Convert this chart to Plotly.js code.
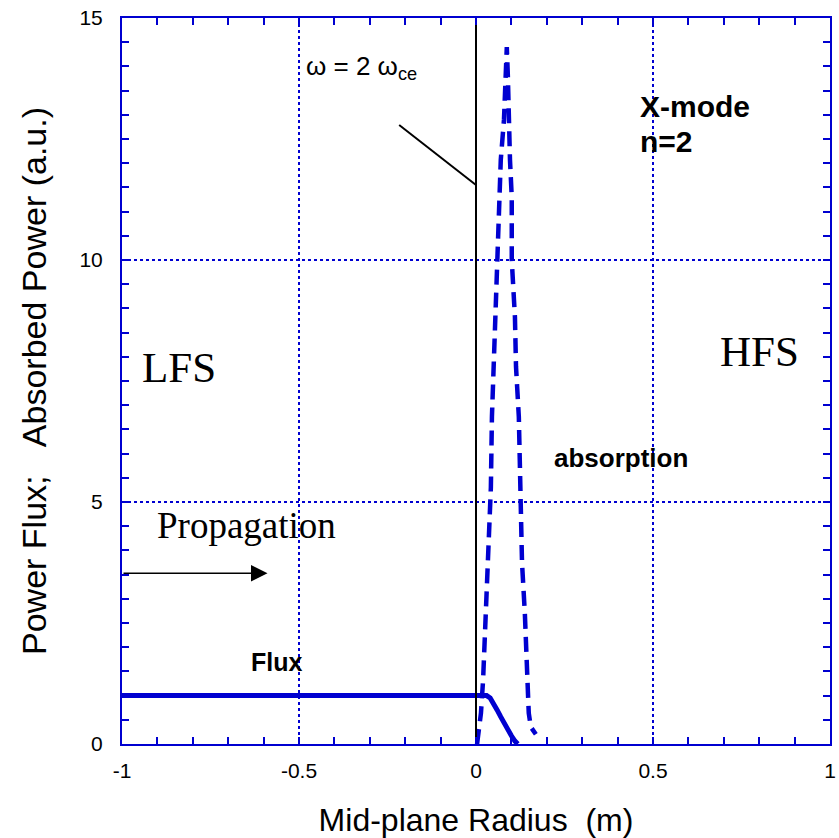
<!DOCTYPE html>
<html>
<head>
<meta charset="utf-8">
<script src="https://cdn.plot.ly/plotly-3.0.1.min.js"></script>
<style>html,body{margin:0;padding:0;background:#fff;}#chart{width:839px;height:838px;}</style>
</head>
<body>
<div id="chart"></div>
<script>
// Power flux (solid)
const fluxX = [-1, 0.03, 0.04, 0.05, 0.06, 0.07, 0.08, 0.09, 0.1, 0.11, 0.118];
const fluxY = [1, 1, 0.95, 0.84, 0.7, 0.56, 0.42, 0.3, 0.17, 0.06, 0];

// Absorbed power (dashed)
const absX = [0.003, 0.014, 0.02, 0.025, 0.031, 0.037, 0.042, 0.045, 0.051, 0.056, 0.059, 0.065, 0.07, 0.079, 0.082, 0.087,
              0.09, 0.093, 0.096, 0.101, 0.101, 0.11, 0.113, 0.121, 0.124, 0.13, 0.138, 0.144, 0.149, 0.155, 0.169];
const absY = [0, 0.64, 1.32, 2.36, 3.4, 4.4, 5.3, 6.76, 7.93, 9.17, 10, 10.9, 12.07, 12.9, 13.6, 14.4,
              13.8, 12.75, 12.07, 11.3, 10, 8.82, 7.8, 6.76, 5.72, 3.74, 2.7, 1.67, 0.64, 0.35, 0.2];

// Resonance line (omega = 2 omega_ce) and its pointer
const resX = [0, 0];
const resY = [0, 15];
const ptrX = [-0.217, 0];
const ptrY = [12.79, 11.55];

// Arrow "Propagation"
const arrowTail = [-1, 3.53];
const arrowHead = [-0.589, 3.53];

const BLUE = '#0000d0';
const SANS = 'Liberation Sans, Arial, sans-serif';
const SERIF = 'Liberation Serif, Times New Roman, serif';

const traces = [
  {x: resX, y: resY, xaxis: 'x2', yaxis: 'y2', mode: 'lines', line: {color: '#000', width: 2}, hoverinfo: 'skip'},
  {x: ptrX, y: ptrY, xaxis: 'x2', yaxis: 'y2', mode: 'lines', line: {color: '#000', width: 2}, hoverinfo: 'skip'},
  {x: fluxX, y: fluxY, mode: 'lines', line: {color: BLUE, width: 5}},
  {x: absX, y: absY, mode: 'lines', line: {color: BLUE, width: 4.5, dash: '15px,8px'}}
];

// main axes: ticks every minor step, labels every few ticks
const axisCommon = {
  showline: true, linecolor: BLUE, linewidth: 2, mirror: 'ticks',
  ticks: 'inside', tickcolor: BLUE, ticklen: 7, tickwidth: 2,
  showgrid: false, zeroline: false, tickmode: 'linear',
  tickfont: {family: SANS, size: 21, color: '#000'}
};
// overlay axes: only the dotted grid at labelled values
const gridAxis = {
  showline: false, ticks: '', showticklabels: false, zeroline: false, tickmode: 'linear',
  showgrid: true, gridcolor: BLUE, gridwidth: 2, griddash: 'dot'
};

const layout = {
  width: 839, height: 838,
  margin: {l: 122, r: 9, t: 18, b: 94},
  paper_bgcolor: '#fff', plot_bgcolor: '#fff',
  showlegend: false,
  xaxis: Object.assign({}, axisCommon, {
    range: [-1, 1], tick0: -1, dtick: 0.1, ticklabelstep: 5, ticklabelstandoff: 7,
    labelalias: {'\u22121': '-1', '\u22120.5': '-0.5'},
    title: {text: 'Mid-plane Radius&nbsp;&nbsp;(m)', font: {family: SANS, size: 32, color: '#000'}, standoff: 29}
  }),
  yaxis: Object.assign({}, axisCommon, {
    range: [0, 15], tick0: 0, dtick: 0.5, ticklabelstep: 10, ticklabelstandoff: 13,
    title: {text: 'Power Flux;&nbsp;&nbsp;&nbsp;Absorbed Power (a.u.)', font: {family: SANS, size: 34, color: '#000'}, standoff: 23}
  }),
  xaxis2: Object.assign({}, gridAxis, {overlaying: 'x', anchor: 'y2', range: [-1, 1], tick0: -1, dtick: 0.5}),
  yaxis2: Object.assign({}, gridAxis, {overlaying: 'y', anchor: 'x2', range: [0, 15], tick0: 0, dtick: 5}),
  annotations: [
    {x: -0.485, y: 13.97, xanchor: 'left', yanchor: 'middle', showarrow: false,
     text: 'ω = 2 ω<sub>ce</sub>', font: {family: SANS, size: 26, color: '#000'}},
    {x: 0.459, y: 13.18, xanchor: 'left', yanchor: 'middle', showarrow: false,
     text: '<b>X-mode</b>', font: {family: SANS, size: 30, color: '#000'}},
    {x: 0.459, y: 12.45, xanchor: 'left', yanchor: 'middle', showarrow: false,
     text: '<b>n=2</b>', font: {family: SANS, size: 30, color: '#000'}},
    {x: -0.949, y: 7.77, xanchor: 'left', yanchor: 'middle', showarrow: false,
     text: 'LFS', font: {family: SERIF, size: 43, color: '#000'}},
    {x: 0.685, y: 8.1, xanchor: 'left', yanchor: 'middle', showarrow: false,
     text: 'HFS', font: {family: SERIF, size: 43, color: '#000'}},
    {x: -0.907, y: 4.52, xanchor: 'left', yanchor: 'middle', showarrow: false,
     text: 'Propagation', font: {family: SERIF, size: 37, color: '#000'}},
    {x: 0.214, y: 5.91, xanchor: 'left', yanchor: 'middle', showarrow: false,
     text: '<b>absorption</b>', font: {family: SANS, size: 26, color: '#000'}},
    {x: -0.64, y: 1.69, xanchor: 'left', yanchor: 'middle', showarrow: false,
     text: '<b>Flux</b>', font: {family: SANS, size: 25, color: '#000'}},
    {x: arrowHead[0], y: arrowHead[1], ax: arrowTail[0], ay: arrowTail[1], axref: 'x', ayref: 'y',
     xref: 'x', yref: 'y', text: '', showarrow: true, arrowhead: 2, arrowsize: 2.2, arrowwidth: 1.5, arrowcolor: '#000'}
  ]
};

Plotly.newPlot('chart', traces, layout, {displayModeBar: false, staticPlot: true});
</script>
</body>
</html>
